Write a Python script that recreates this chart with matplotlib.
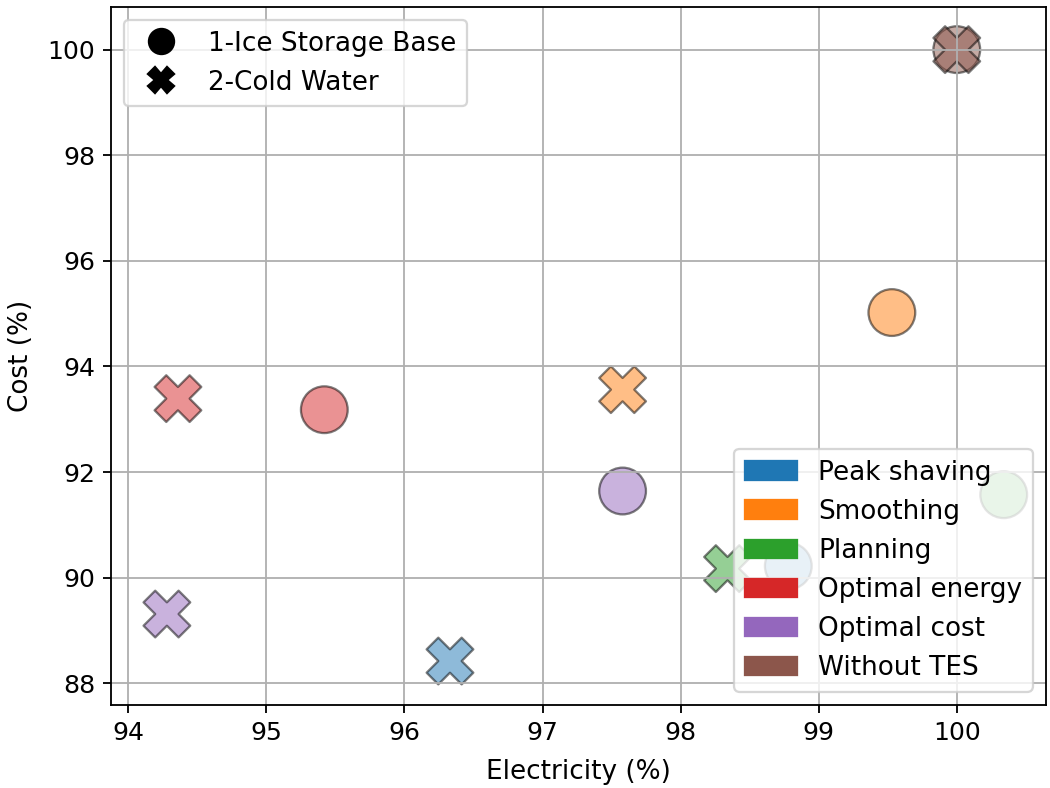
import matplotlib
matplotlib.use("Agg")
import matplotlib.pyplot as plt
from matplotlib.lines import Line2D
from matplotlib.patches import Patch

strategies = ["Peak shaving", "Smoothing", "Planning", "Optimal energy",
              "Optimal cost", "Without TES"]
colors = ["#1f77b4", "#ff7f0e", "#2ca02c", "#d62728", "#9467bd", "#8c564b"]

# 1-Ice Storage Base (circles)
ice_elec = [98.78, 99.53, 100.34, 95.42, 97.58, 100.0]
ice_cost = [90.22, 95.02, 91.57, 93.18, 91.64, 100.0]

# 2-Cold Water (crosses)
cold_elec = [96.33, 97.58, 98.34, 94.36, 94.28, 100.0]
cold_cost = [88.42, 93.56, 90.17, 93.39, 89.31, 100.0]

systems = ["1-Ice Storage Base", "2-Cold Water"]
markers = ["o", "X"]

fig = plt.figure(figsize=(6.4, 4.8), dpi=164.2)
ax = fig.add_axes([0.1056, 0.1055, 0.8896, 0.8856])

for xs, ys, m in [(ice_elec, ice_cost, "o"), (cold_elec, cold_cost, "X")]:
    ax.scatter(xs, ys, c=colors, marker=m, s=420, alpha=0.5,
               edgecolors="k", linewidths=1.0)

ax.set_xlim(93.875, 100.645)
ax.set_ylim(87.59, 100.81)
ax.set_yticks([88, 90, 92, 94, 96, 98, 100])
ax.tick_params(labelsize=11)
ax.grid(True)
ax.set_xlabel("Electricity (%)", fontsize=11.5, labelpad=6)
ax.set_ylabel("Cost (%)", fontsize=11.5, labelpad=6)

marker_handles = [Line2D([], [], linestyle="", marker=m, color="k",
                         markersize=11) for m in markers]
leg1 = ax.legend(marker_handles, systems, loc="upper left", fontsize=11.5)
ax.add_artist(leg1)

color_handles = [Patch(facecolor=c, edgecolor=c) for c in colors]
ax.legend(color_handles, strategies, loc="lower right", fontsize=11.5)

fig.savefig("out.png", dpi=164.2)
